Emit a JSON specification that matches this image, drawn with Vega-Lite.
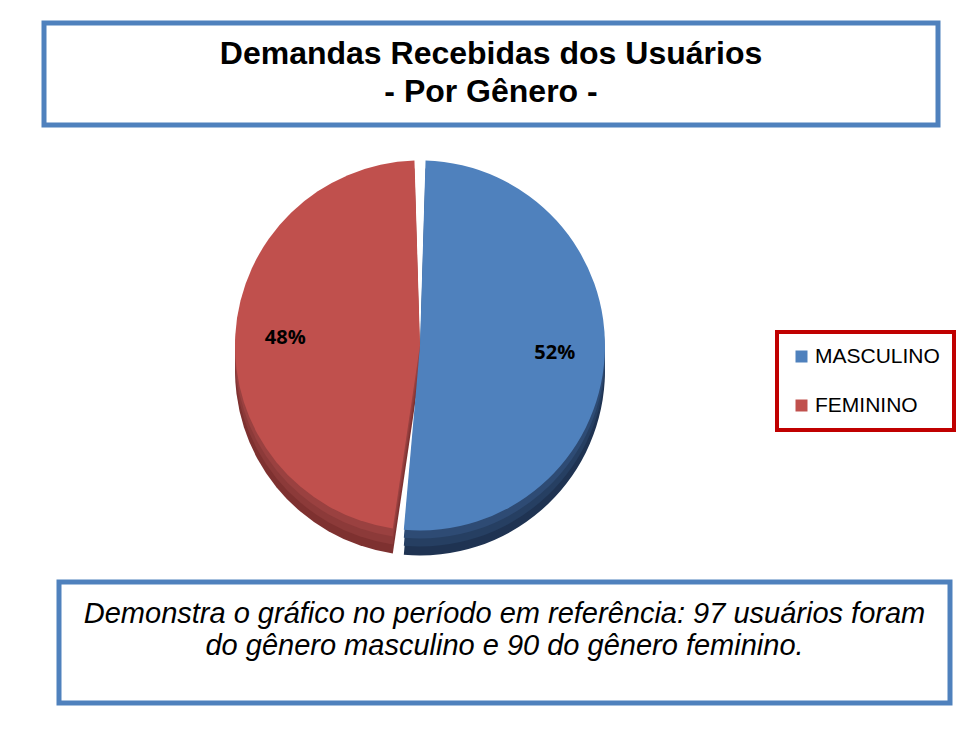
{
  "$schema": "https://vega.github.io/schema/vega-lite/v6.json",
  "background": "white",
  "padding": {"left": 41, "top": 20, "right": 0, "bottom": 0},
  "config": {"view": {"stroke": null}, "font": "Liberation Sans"},
  "spacing": 10,
  "vconcat": [
    {
      "width": 894,
      "height": 102,
      "view": {"stroke": "#4F81BD", "strokeWidth": 5},
      "data": {"values": [{"titulo": "Demandas Recebidas dos Usuários\n- Por Gênero -"}]},
      "mark": {"type": "text", "lineBreak": "\n", "font": "Liberation Sans", "fontWeight": "bold", "fontSize": 32, "lineHeight": 38, "align": "center", "baseline": "middle", "dy": -20, "color": "black"},
      "encoding": {"text": {"field": "titulo", "type": "nominal"}}
    },
    {
      "width": 752,
      "height": 431,
      "data": {"values": [
        {"genero": "MASCULINO", "usuarios": 97, "rotulo": "52%"},
        {"genero": "FEMININO", "usuarios": 90, "rotulo": "48%"}
      ]},
      "encoding": {
        "theta": {"field": "usuarios", "type": "quantitative", "stack": true},
        "order": {"field": "usuarios", "type": "quantitative", "sort": "descending"}
      },
      "layer": [
        {
          "mark": {"type": "arc", "outerRadius": 185, "padAngle": 0.06, "yOffset": 17},
          "encoding": {"color": {"field": "genero", "type": "nominal", "scale": {"domain": ["MASCULINO", "FEMININO"], "range": ["#1F3352", "#7E3130"]}, "legend": null}}
        },
        {
          "mark": {"type": "arc", "outerRadius": 185, "padAngle": 0.06, "yOffset": 8},
          "encoding": {"color": {"field": "genero", "type": "nominal", "scale": {"domain": ["MASCULINO", "FEMININO"], "range": ["#263F62", "#8C3A39"]}, "legend": null}}
        },
        {
          "mark": {"type": "arc", "outerRadius": 185, "padAngle": 0.06, "yOffset": 0},
          "encoding": {"color": {"field": "genero", "type": "nominal", "scale": {"domain": ["MASCULINO", "FEMININO"], "range": ["#2E4B74", "#9A4140"]}, "legend": null}}
        },
        {
          "mark": {"type": "arc", "outerRadius": 185, "padAngle": 0.06, "yOffset": -8},
          "encoding": {"color": {"field": "genero", "type": "nominal", "scale": {"domain": ["MASCULINO", "FEMININO"], "range": ["#4F81BD", "#C0504D"]},
            "legend": {
              "title": null, "orient": "none", "legendX": 733, "legendY": 194,
              "symbolType": "square", "symbolSize": 144, "symbolStrokeWidth": 0,
              "labelFont": "Liberation Sans", "labelFontSize": 21, "labelColor": "black", "labelOffset": 3,
              "strokeColor": "#C00000", "padding": 14, "rowPadding": 27,
              "encode": {"legend": {"update": {"strokeWidth": {"value": 4}}}}
            }}}
        },
        {
          "mark": {"type": "text", "radius": 135, "yOffset": -8, "font": "Open Sans", "fontWeight": "bold", "fontSize": 20, "color": "black"},
          "encoding": {"text": {"field": "rotulo", "type": "nominal"}}
        }
      ],
      "resolve": {"scale": {"color": "independent"}}
    },
    {
      "spacing": 11,
      "hconcat": [
        {
          "width": 1,
          "height": 121,
          "data": {"values": [{}]},
          "mark": {"type": "text"},
          "encoding": {"text": {"value": ""}}
        },
        {
          "width": 891,
          "height": 121,
          "view": {"stroke": "#4F81BD", "strokeWidth": 5},
          "data": {"values": [{"texto": "Demonstra o gráfico no período em referência: 97 usuários foram\ndo gênero masculino e 90 do gênero feminino."}]},
          "mark": {"type": "text", "lineBreak": "\n", "font": "Liberation Sans", "fontStyle": "italic", "fontSize": 29, "lineHeight": 32, "align": "center", "baseline": "middle", "dy": -29, "color": "black"},
          "encoding": {"text": {"field": "texto", "type": "nominal"}}
        }
      ]
    }
  ]
}
